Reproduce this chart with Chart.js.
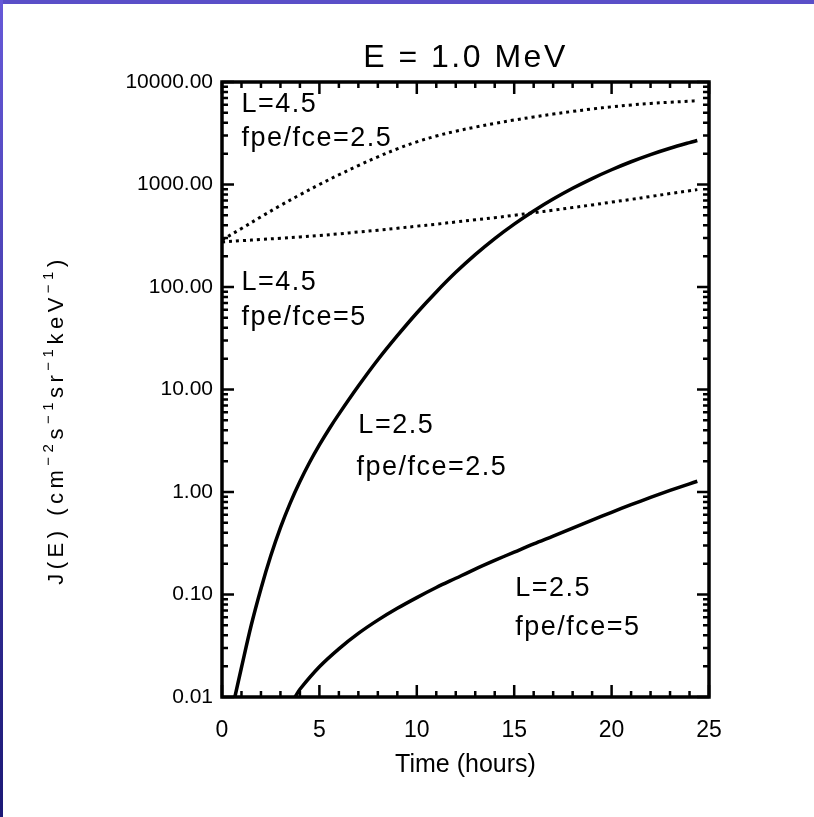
<!DOCTYPE html>
<html>
<head>
<meta charset="utf-8">
<script src="https://cdn.jsdelivr.net/npm/chart.js@4.4.1/dist/chart.umd.min.js"></script>
<style>
  html, body { margin: 0; padding: 0; background: #fff; }
  #marco { position: relative; width: 814px; height: 817px; overflow: hidden; background: #fff; }
  #barraSup { position: absolute; left: 0; top: 0; width: 814px; height: 4px; background: #5a4fc8; }
  #barraIzq { position: absolute; left: 0; top: 0; width: 3px; height: 817px; background: linear-gradient(#6659d8, #1c1976); }
  canvas { position: absolute; left: 0; top: 0; }
</style>
</head>
<body>
<div id="marco">
  <canvas id="grafica" width="814" height="817"></canvas>
  <div id="barraSup"></div>
  <div id="barraIzq"></div>
</div>
<script>
// Curva L=2.5 fpe/fce=2.5 (solida, la que sube rapido)
const tiempoL25a = [0.66, 1, 1.5, 2, 2.5, 3, 3.5, 4, 4.5, 5, 5.5, 6, 7, 8, 9, 10, 11, 12, 13, 14, 15, 16, 17, 18, 19, 20, 21, 22, 23, 24, 24.4];
const flujoL25a = [0.01, 0.0194, 0.0501, 0.114, 0.237, 0.449, 0.78, 1.265, 1.95, 2.88, 4.12, 5.75, 10.8, 19.5, 33.5, 55.8, 89.5, 139, 207, 297, 411, 552, 721, 918, 1143, 1393, 1667, 1959, 2259, 2564, 2685];

// Curva L=2.5 fpe/fce=5 (solida, abajo)
const tiempoL25b = [3.75, 4, 5, 6, 7, 8, 9, 10, 11, 12, 13, 14, 15, 16, 17, 18, 19, 20, 21, 22, 23, 24, 24.4];
const flujoL25b = [0.01, 0.0119, 0.0197, 0.0295, 0.0417, 0.0562, 0.0733, 0.0933, 0.117, 0.144, 0.177, 0.215, 0.259, 0.312, 0.372, 0.445, 0.531, 0.634, 0.752, 0.885, 1.035, 1.202, 1.274];

// Curvas L=4.5 (punteadas)
const tiempoL45 = [0, 1, 2, 3, 4, 5, 6, 7, 8, 9, 10, 11, 12, 13, 14, 15, 16, 17, 18, 19, 20, 21, 22, 23, 24, 24.4];
const flujoL45a = [288, 372, 484, 624, 794, 1000, 1245, 1531, 1862, 2228, 2606, 2972, 3311, 3631, 3945, 4256, 4560, 4864, 5164, 5458, 5728, 5970, 6180, 6353, 6501, 6570];
const flujoL45b = [275, 283, 291, 299, 308, 318, 330, 344, 358, 374, 392, 410, 431, 452, 475, 501, 530, 561, 596, 632, 673, 716, 764, 815, 869, 891];

// Ejes
const ticksY = [0.01, 0.1, 1, 10, 100, 1000, 10000];
const etiquetasY = ['0.01', '0.10', '1.00', '10.00', '100.00', '1000.00', '10000.00'];
const ticksX = [0, 5, 10, 15, 20, 25];

// Textos
const titulo = 'E = 1.0 MeV';
const tituloX = 'Time (hours)';
// titulo del eje y en partes: [texto, es superindice]
const partesTituloY = [['J(E) (cm', false], ['−2', true], ['s', false], ['−1', true], ['sr', false], ['−1', true], ['keV', false], ['−1', true], [')', false]];

// Textos dentro de la grafica
const notaTexto = ['L=4.5', 'fpe/fce=2.5', 'L=4.5', 'fpe/fce=5', 'L=2.5', 'fpe/fce=2.5', 'L=2.5', 'fpe/fce=5'];
const notaX = [1.0, 1.0, 1.0, 1.0, 7.0, 6.9, 15.05, 15.05];
const notaY = [5150, 2350, 93, 43, 3.8, 1.45, 0.096, 0.04];

const fuente = "'Liberation Sans', Arial, sans-serif";
Chart.defaults.color = '#000';
Chart.defaults.font.family = fuente;

function puntos(tiempos, valores) {
    return tiempos.map((t, i) => ({ x: t, y: valores[i] }));
}

// Marco negro con ticks hacia adentro en los 4 lados
const marcoEjes = {
    id: 'marcoEjes',
    afterDatasetsDraw(chart) {
        const { ctx, chartArea: a, scales: { x, y } } = chart;
        ctx.save();
        ctx.strokeStyle = '#000';
        ctx.lineWidth = 2.5;
        ctx.beginPath();
        for (let t = 0; t <= 25; t++) {
            const px = x.getPixelForValue(t);
            const largo = t % 5 === 0 ? 12 : 6;
            ctx.moveTo(px, a.bottom); ctx.lineTo(px, a.bottom - largo);
            ctx.moveTo(px, a.top); ctx.lineTo(px, a.top + largo);
        }
        for (let e = -2; e <= 4; e++) {
            for (let m = 1; m < 10; m++) {
                const v = m * Math.pow(10, e);
                if (v > 10000) break;
                const py = y.getPixelForValue(v);
                const largo = m === 1 ? 12 : 6;
                ctx.moveTo(a.left, py); ctx.lineTo(a.left + largo, py);
                ctx.moveTo(a.right, py); ctx.lineTo(a.right - largo, py);
            }
        }
        ctx.stroke();
        ctx.lineWidth = 3.5;
        ctx.strokeRect(a.left, a.top, a.right - a.left, a.bottom - a.top);
        ctx.restore();
    }
};

const notas = {
    id: 'notas',
    afterDatasetsDraw(chart) {
        const { ctx, scales: { x, y } } = chart;
        ctx.save();
        ctx.fillStyle = '#000';
        ctx.font = '27px ' + fuente;
        ctx.letterSpacing = '1.5px';
        ctx.textAlign = 'left';
        ctx.textBaseline = 'alphabetic';
        notaTexto.forEach((txt, i) => {
            ctx.fillText(txt, x.getPixelForValue(notaX[i]), y.getPixelForValue(notaY[i]));
        });
        ctx.restore();
    }
};

// Titulo arriba y titulo del eje y (con superindices)
const titulos = {
    id: 'titulos',
    afterDraw(chart) {
        const { ctx, chartArea: a } = chart;
        ctx.save();
        ctx.fillStyle = '#000';
        ctx.font = '32px ' + fuente;
        ctx.letterSpacing = '2.5px';
        ctx.textAlign = 'center';
        ctx.textBaseline = 'middle';
        ctx.fillText(titulo, (a.left + a.right) / 2, 58);

        ctx.translate(55, 420);
        ctx.rotate(-Math.PI / 2);
        ctx.letterSpacing = '4.5px';
        ctx.textAlign = 'left';
        ctx.textBaseline = 'alphabetic';
        let total = 0;
        partesTituloY.forEach(([txt, sup]) => {
            ctx.font = (sup ? 15 : 22) + 'px ' + fuente;
            total += ctx.measureText(txt).width;
        });
        let pos = -total / 2;
        partesTituloY.forEach(([txt, sup]) => {
            ctx.font = (sup ? 15 : 22) + 'px ' + fuente;
            ctx.fillText(txt, pos, sup ? -2 : 8);
            pos += ctx.measureText(txt).width;
        });
        ctx.restore();
    }
};

const solida = { borderColor: '#000', borderWidth: 3.5, pointRadius: 0, fill: false, tension: 0.35 };
const punteada = { borderColor: '#000', borderWidth: 3, borderDash: [3, 4], pointRadius: 0, fill: false, tension: 0.35 };

new Chart(document.getElementById('grafica'), {
    type: 'line',
    data: {
        datasets: [
            Object.assign({ label: 'L=2.5 fpe/fce=2.5', data: puntos(tiempoL25a, flujoL25a) }, solida),
            Object.assign({ label: 'L=2.5 fpe/fce=5', data: puntos(tiempoL25b, flujoL25b) }, solida),
            Object.assign({ label: 'L=4.5 fpe/fce=2.5', data: puntos(tiempoL45, flujoL45a) }, punteada),
            Object.assign({ label: 'L=4.5 fpe/fce=5', data: puntos(tiempoL45, flujoL45b) }, punteada)
        ]
    },
    options: {
        responsive: false,
        animation: false,
        layout: { padding: { left: 0, top: 82, right: 105, bottom: 0 } },
        plugins: {
            legend: { display: false },
            tooltip: { enabled: false },
            title: { display: false }
        },
        scales: {
            x: {
                type: 'linear',
                min: 0,
                max: 25,
                afterBuildTicks: (s) => { s.ticks = ticksX.map(v => ({ value: v })); },
                afterFit: (s) => { s.height = 120; },
                grid: { display: false, drawTicks: false },
                border: { display: false },
                ticks: { padding: 20, font: { size: 23 }, color: '#000', maxRotation: 0 },
                title: {
                    display: true,
                    text: tituloX,
                    font: { size: 25 },
                    color: '#000',
                    padding: { top: 0, bottom: 37 }
                }
            },
            y: {
                type: 'logarithmic',
                min: 0.01,
                max: 10000,
                afterBuildTicks: (s) => { s.ticks = ticksY.map(v => ({ value: v })); },
                afterFit: (s) => { s.width = 222; },
                grid: { display: false, drawTicks: false },
                border: { display: false },
                ticks: {
                    padding: 9,
                    font: { size: 21 },
                    color: '#000',
                    callback: (v, i) => etiquetasY[i]
                },
                title: { display: false }
            }
        }
    },
    plugins: [marcoEjes, notas, titulos]
});
</script>
</body>
</html>
